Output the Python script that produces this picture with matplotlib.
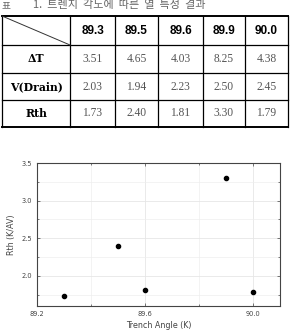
import matplotlib
matplotlib.use("Agg")
import matplotlib.pyplot as plt
from matplotlib.ticker import MultipleLocator

plt.rcParams['font.family'] = ['DejaVu Sans', 'Noto Sans CJK KR']

angles = [89.3, 89.5, 89.6, 89.9, 90.0]
angle_labels = ["89.3", "89.5", "89.6", "89.9", "90.0"]
row_names = ["ΔT", "V(Drain)", "Rth"]
delta_t = ["3.51", "4.65", "4.03", "8.25", "4.38"]
v_drain = ["2.03", "1.94", "2.23", "2.50", "2.45"]
rth_txt = ["1.73", "2.40", "1.81", "3.30", "1.79"]
rth = [1.73, 2.40, 1.81, 3.30, 1.79]

W, H = 290, 332
fig = plt.figure(figsize=(W / 100, H / 100), dpi=100)

# table drawn in pixel coordinates
tab = fig.add_axes([0, 0, 1, 1])
tab.set_xlim(0, W)
tab.set_ylim(H, 0)
tab.axis("off")

tab.text(2, 5, "표", fontsize=7, color="#666666", va="center",
         family=['Noto Sans CJK KR'])
tab.text(33, 5, "1.  트렌치  각도에  따른  열  특성  결과", fontsize=8,
         color="#666666", va="center", family=['Noto Sans CJK KR'])

xs = [2, 70, 115, 158, 203, 245, 288]
ys = [16, 45, 73, 100, 127]
for x in xs:
    tab.plot([x, x], [ys[0], ys[-1]], color="black", lw=0.9)
for i, y in enumerate(ys):
    lw = 1.4 if i in (0, len(ys) - 1) else 0.9
    tab.plot([xs[0], xs[-1]], [y, y], color="black", lw=lw)
tab.plot([xs[0], xs[1]], [ys[0], ys[1]], color="#333333", lw=0.7)

for j, lab in enumerate(angle_labels):
    cx = (xs[j + 1] + xs[j + 2]) / 2
    tab.text(cx, (ys[0] + ys[1]) / 2 + 1, lab, ha="center", va="center",
             fontsize=8.5, fontweight="bold", family="Liberation Sans")

rows = [delta_t, v_drain, rth_txt]
for i, (name, vals) in enumerate(zip(row_names, rows)):
    cy = (ys[i + 1] + ys[i + 2]) / 2
    tab.text((xs[0] + xs[1]) / 2, cy, name, ha="center", va="center",
             fontsize=7.8, fontweight="bold", family="DejaVu Serif")
    for j, v in enumerate(vals):
        cx = (xs[j + 1] + xs[j + 2]) / 2
        tab.text(cx, cy, v, ha="center", va="center", fontsize=8.3,
                 color="#555555", family="Liberation Serif")

# scatter plot
ax = fig.add_axes([37 / W, 1 - 306 / H, (280 - 37) / W, (306 - 163) / H])
ax.scatter(angles, rth, s=9, color="black", zorder=3)
ax.set_xlim(89.2, 90.1)
ax.set_ylim(1.6, 3.5)
ax.xaxis.set_major_locator(MultipleLocator(0.4))
ax.xaxis.set_minor_locator(MultipleLocator(0.2))
ax.yaxis.set_major_locator(MultipleLocator(0.5))
ax.yaxis.set_minor_locator(MultipleLocator(0.25))
ax.xaxis.set_major_formatter(plt.FuncFormatter(lambda v, p: f"{v:.1f}"))
ax.yaxis.set_major_formatter(plt.FuncFormatter(lambda v, p: f"{v:.1f}"))
ax.grid(which="major", color="#e6e6e6", lw=0.6)
ax.grid(which="minor", color="#eeeeee", lw=0.5)
ax.tick_params(which="both", direction="in", top=True, right=True,
               labelsize=4.8, colors="#444444", length=2, width=0.5)
ax.tick_params(which="minor", length=1.5)
for sp in ax.spines.values():
    sp.set_color("#444444")
    sp.set_linewidth(0.8)
ax.set_xlabel("Trench Angle (K)", fontsize=5.8, color="#444444", labelpad=3)
ax.set_ylabel("Rth (K/AV)", fontsize=5.8, color="#444444", labelpad=4)
ax.set_axisbelow(True)

fig.savefig("out.png", dpi=100)
